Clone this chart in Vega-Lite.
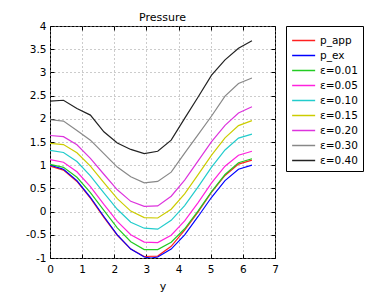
{
  "$schema": "https://vega.github.io/schema/vega-lite/v6.json",
  "width": 225,
  "height": 232,
  "autosize": {"type": "none"},
  "padding": {"left": 50, "top": 26, "right": 107, "bottom": 42},
  "background": "white",
  "title": {"text": "Pressure", "fontSize": 11, "fontWeight": "normal", "font": "DejaVu Sans", "offset": -2, "color": "#000"},
  "config": {
    "font": "DejaVu Sans",
    "view": {"stroke": "#000", "strokeWidth": 1},
    "axis": {"labelFontSize": 10.5, "labelColor": "#000", "titleColor": "#000", "titleFontWeight": "normal", "titleFontSize": 11, "domain": false, "tickColor": "#000", "tickSize": -4, "labelPadding": 8, "labelFlush": false, "labelOverlap": false, "gridColor": "#999", "gridDash": [1, 3], "gridOpacity": 1, "labelExpr": "'' + datum.value"}
  },
  "data": {"values": [
    {"s":"p_app","y":0,"p":0.98},{"s":"p_app","y":0.419,"p":0.894},{"s":"p_app","y":0.838,"p":0.649},{"s":"p_app","y":1.257,"p":0.289},{"s":"p_app","y":1.676,"p":-0.125},{"s":"p_app","y":2.094,"p":-0.51},{"s":"p_app","y":2.513,"p":-0.809},{"s":"p_app","y":2.932,"p":-0.968},{"s":"p_app","y":3.351,"p":-0.958},{"s":"p_app","y":3.77,"p":-0.749},{"s":"p_app","y":4.189,"p":-0.4},{"s":"p_app","y":4.608,"p":-0.005},{"s":"p_app","y":5.027,"p":0.419},{"s":"p_app","y":5.445,"p":0.779},{"s":"p_app","y":5.864,"p":1.024},{"s":"p_app","y":6.283,"p":1.11},
    {"s":"p_ex","y":0,"p":1},{"s":"p_ex","y":0.419,"p":0.914},{"s":"p_ex","y":0.838,"p":0.669},{"s":"p_ex","y":1.257,"p":0.309},{"s":"p_ex","y":1.676,"p":-0.105},{"s":"p_ex","y":2.094,"p":-0.5},{"s":"p_ex","y":2.513,"p":-0.809},{"s":"p_ex","y":2.932,"p":-0.978},{"s":"p_ex","y":3.142,"p":-1},{"s":"p_ex","y":3.351,"p":-0.978},{"s":"p_ex","y":3.77,"p":-0.809},{"s":"p_ex","y":4.189,"p":-0.5},{"s":"p_ex","y":4.608,"p":-0.105},{"s":"p_ex","y":5.027,"p":0.309},{"s":"p_ex","y":5.445,"p":0.669},{"s":"p_ex","y":5.864,"p":0.914},{"s":"p_ex","y":6.283,"p":1},
    {"s":"ε=0.01","y":0,"p":1.02},{"s":"ε=0.01","y":0.419,"p":0.954},{"s":"ε=0.01","y":0.838,"p":0.739},{"s":"ε=0.01","y":1.257,"p":0.409},{"s":"ε=0.01","y":1.676,"p":0.025},{"s":"ε=0.01","y":2.094,"p":-0.35},{"s":"ε=0.01","y":2.513,"p":-0.649},{"s":"ε=0.01","y":2.932,"p":-0.818},{"s":"ε=0.01","y":3.351,"p":-0.818},{"s":"ε=0.01","y":3.77,"p":-0.659},{"s":"ε=0.01","y":4.189,"p":-0.37},{"s":"ε=0.01","y":4.608,"p":0.015},{"s":"ε=0.01","y":5.027,"p":0.429},{"s":"ε=0.01","y":5.445,"p":0.799},{"s":"ε=0.01","y":5.864,"p":1.054},{"s":"ε=0.01","y":6.283,"p":1.14},
    {"s":"ε=0.05","y":0,"p":1.12},{"s":"ε=0.05","y":0.419,"p":1.064},{"s":"ε=0.05","y":0.838,"p":0.859},{"s":"ε=0.05","y":1.257,"p":0.539},{"s":"ε=0.05","y":1.676,"p":0.155},{"s":"ε=0.05","y":2.094,"p":-0.21},{"s":"ε=0.05","y":2.513,"p":-0.499},{"s":"ε=0.05","y":2.932,"p":-0.658},{"s":"ε=0.05","y":3.351,"p":-0.668},{"s":"ε=0.05","y":3.77,"p":-0.509},{"s":"ε=0.05","y":4.189,"p":-0.2},{"s":"ε=0.05","y":4.608,"p":0.195},{"s":"ε=0.05","y":5.027,"p":0.619},{"s":"ε=0.05","y":5.445,"p":0.979},{"s":"ε=0.05","y":5.864,"p":1.214},{"s":"ε=0.05","y":6.283,"p":1.3},
    {"s":"ε=0.10","y":0,"p":1.32},{"s":"ε=0.10","y":0.419,"p":1.274},{"s":"ε=0.10","y":0.838,"p":1.079},{"s":"ε=0.10","y":1.257,"p":0.769},{"s":"ε=0.10","y":1.676,"p":0.405},{"s":"ε=0.10","y":2.094,"p":0.05},{"s":"ε=0.10","y":2.513,"p":-0.229},{"s":"ε=0.10","y":2.932,"p":-0.358},{"s":"ε=0.10","y":3.351,"p":-0.378},{"s":"ε=0.10","y":3.77,"p":-0.189},{"s":"ε=0.10","y":4.189,"p":0.13},{"s":"ε=0.10","y":4.608,"p":0.535},{"s":"ε=0.10","y":5.027,"p":0.959},{"s":"ε=0.10","y":5.445,"p":1.329},{"s":"ε=0.10","y":5.864,"p":1.584},{"s":"ε=0.10","y":6.283,"p":1.67},
    {"s":"ε=0.15","y":0,"p":1.47},{"s":"ε=0.15","y":0.419,"p":1.444},{"s":"ε=0.15","y":0.838,"p":1.269},{"s":"ε=0.15","y":1.257,"p":0.979},{"s":"ε=0.15","y":1.676,"p":0.625},{"s":"ε=0.15","y":2.094,"p":0.28},{"s":"ε=0.15","y":2.513,"p":0.011},{"s":"ε=0.15","y":2.932,"p":-0.128},{"s":"ε=0.15","y":3.351,"p":-0.138},{"s":"ε=0.15","y":3.77,"p":0.051},{"s":"ε=0.15","y":4.189,"p":0.38},{"s":"ε=0.15","y":4.608,"p":0.795},{"s":"ε=0.15","y":5.027,"p":1.219},{"s":"ε=0.15","y":5.445,"p":1.589},{"s":"ε=0.15","y":5.864,"p":1.854},{"s":"ε=0.15","y":6.283,"p":1.96},
    {"s":"ε=0.20","y":0,"p":1.64},{"s":"ε=0.20","y":0.419,"p":1.614},{"s":"ε=0.20","y":0.838,"p":1.439},{"s":"ε=0.20","y":1.257,"p":1.149},{"s":"ε=0.20","y":1.676,"p":0.805},{"s":"ε=0.20","y":2.094,"p":0.47},{"s":"ε=0.20","y":2.513,"p":0.221},{"s":"ε=0.20","y":2.932,"p":0.112},{"s":"ε=0.20","y":3.351,"p":0.122},{"s":"ε=0.20","y":3.77,"p":0.331},{"s":"ε=0.20","y":4.189,"p":0.68},{"s":"ε=0.20","y":4.608,"p":1.095},{"s":"ε=0.20","y":5.027,"p":1.509},{"s":"ε=0.20","y":5.445,"p":1.859},{"s":"ε=0.20","y":5.864,"p":2.124},{"s":"ε=0.20","y":6.283,"p":2.26},
    {"s":"ε=0.30","y":0,"p":1.98},{"s":"ε=0.30","y":0.419,"p":1.95},{"s":"ε=0.30","y":0.838,"p":1.75},{"s":"ε=0.30","y":1.257,"p":1.54},{"s":"ε=0.30","y":1.676,"p":1.25},{"s":"ε=0.30","y":2.094,"p":0.96},{"s":"ε=0.30","y":2.513,"p":0.75},{"s":"ε=0.30","y":2.932,"p":0.62},{"s":"ε=0.30","y":3.351,"p":0.65},{"s":"ε=0.30","y":3.77,"p":0.85},{"s":"ε=0.30","y":4.189,"p":1.26},{"s":"ε=0.30","y":4.608,"p":1.66},{"s":"ε=0.30","y":5.027,"p":2.06},{"s":"ε=0.30","y":5.445,"p":2.49},{"s":"ε=0.30","y":5.864,"p":2.76},{"s":"ε=0.30","y":6.283,"p":2.88},
    {"s":"ε=0.40","y":0,"p":2.38},{"s":"ε=0.40","y":0.419,"p":2.4},{"s":"ε=0.40","y":0.838,"p":2.22},{"s":"ε=0.40","y":1.257,"p":2.08},{"s":"ε=0.40","y":1.676,"p":1.72},{"s":"ε=0.40","y":2.094,"p":1.48},{"s":"ε=0.40","y":2.513,"p":1.34},{"s":"ε=0.40","y":2.932,"p":1.25},{"s":"ε=0.40","y":3.351,"p":1.3},{"s":"ε=0.40","y":3.77,"p":1.54},{"s":"ε=0.40","y":4.189,"p":2.01},{"s":"ε=0.40","y":4.608,"p":2.47},{"s":"ε=0.40","y":5.027,"p":2.94},{"s":"ε=0.40","y":5.445,"p":3.27},{"s":"ε=0.40","y":5.864,"p":3.52},{"s":"ε=0.40","y":6.283,"p":3.68}
  ]},
  "layer": [
    {
      "mark": {"type": "line", "strokeWidth": 1.2, "clip": true},
      "encoding": {
        "x": {"field": "y", "type": "quantitative", "scale": {"domain": [0, 7], "nice": false}, "axis": {"values": [0,1,2,3,4,5,6,7], "title": "y", "titlePadding": 6, "labelPadding": 10, "grid": true}},
        "y": {"field": "p", "type": "quantitative", "scale": {"domain": [-1, 4], "nice": false, "zero": false}, "axis": {"values": [-1,-0.5,0,0.5,1,1.5,2,2.5,3,3.5,4], "title": null, "grid": true}},
        "color": {"field": "s", "type": "nominal", "sort": null,
          "scale": {"domain": ["p_app","p_ex","ε=0.01","ε=0.05","ε=0.10","ε=0.15","ε=0.20","ε=0.30","ε=0.40"],
                    "range": ["#ff2020","#0000ff","#22cc22","#ff22dd","#22cccc","#cccc00","#dd33dd","#888888","#222222"]},
          "legend": {"title": null, "orient": "none", "legendX": 236, "legendY": 0, "strokeColor": "#000", "fillColor": "#fff", "padding": 5, "labelFontSize": 10.5, "labelColor": "#000", "symbolType": "M-1,0H1.75", "symbolSize": 280, "symbolStrokeWidth": 1.5, "rowPadding": 0, "labelOffset": 10, "labelExpr": "datum.label"}}
      }
    },
    {
      "mark": {"type": "line", "opacity": 0},
      "encoding": {
        "x": {"field": "y", "type": "quantitative", "axis": {"orient": "top", "values": [0,1,2,3,4,5,6,7], "labels": false, "title": null, "grid": false, "minExtent": 0, "maxExtent": 0}},
        "y": {"field": "p", "type": "quantitative", "axis": {"orient": "right", "values": [-1,-0.5,0,0.5,1,1.5,2,2.5,3,3.5,4], "labels": false, "title": null, "grid": false, "minExtent": 0, "maxExtent": 0}}
      }
    }
  ],
  "resolve": {"axis": {"x": "independent", "y": "independent"}}
}
